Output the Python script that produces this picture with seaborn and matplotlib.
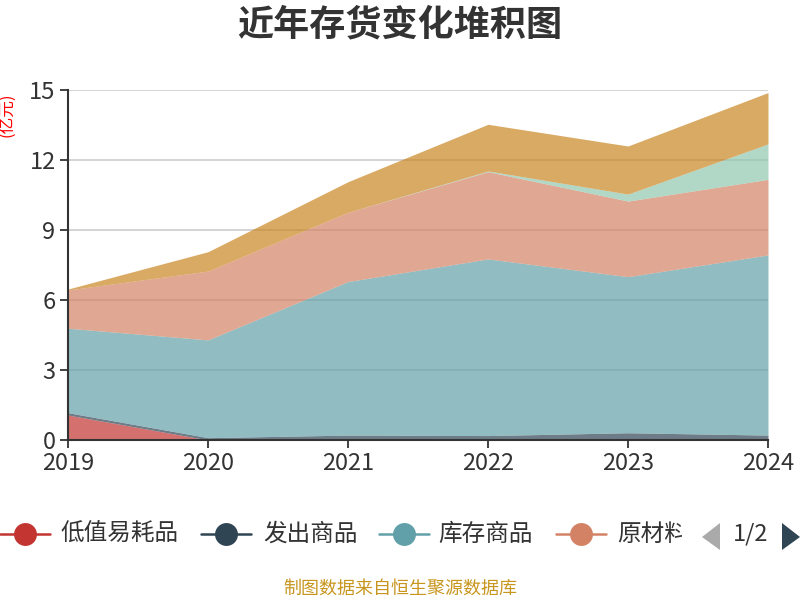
import matplotlib
matplotlib.use("Agg")
import matplotlib.pyplot as plt
import seaborn as sns
import numpy as np
import pandas as pd
from matplotlib.lines import Line2D
from matplotlib.patches import Polygon
from matplotlib.transforms import Bbox

years = [2019, 2020, 2021, 2022, 2023, 2024]
series_names = ["低值易耗品", "发出商品", "库存商品", "原材料", "在产品", "周转材料"]
low_value = [1.07, 0.0, 0.0, 0.0, 0.0, 0.0]
shipped = [0.10, 0.10, 0.21, 0.19, 0.31, 0.21]
stock = [3.62, 4.19, 6.58, 7.57, 6.69, 7.72]
raw = [1.64, 2.95, 2.97, 3.74, 3.24, 3.24]
wip = [0.0, 0.0, 0.0, 0.03, 0.30, 1.52]
turnover = [0.04, 0.83, 1.31, 2.00, 2.06, 2.20]
colors = ["#c23531", "#2f4554", "#61a0a8", "#d48265", "#91c7ae", "#ca8622"]
yticks = [0, 3, 6, 9, 12, 15]

df = pd.DataFrame({"年份": years, "低值易耗品": low_value, "发出商品": shipped,
                   "库存商品": stock, "原材料": raw, "在产品": wip, "周转材料": turnover})

sns.set_theme(style="white")
plt.rcParams['font.family'] = ['Noto Sans CJK SC', 'DejaVu Sans']

W, H = 800, 600
fig = plt.figure(figsize=(8, 6), dpi=100)
ax = fig.add_axes([68 / W, 1 - 440 / H, 700 / W, 350 / H])

base = np.zeros(len(years))
for name, c in zip(series_names, colors):
    vals = df[name].to_numpy()
    ax.fill_between(df["年份"], base, base + vals, color=c, alpha=0.7, linewidth=0, zorder=2)
    base = base + vals

ax.set_xlim(2019, 2024)
ax.set_ylim(0, 15)
ax.set_yticks(yticks)
ax.set_xticks(years)
ax.set_xticklabels([str(y) for y in years])
for y in yticks[1:]:
    ax.axhline(y, color="#cccccc", linewidth=1.2, zorder=1)

for s in ["top", "right"]:
    ax.spines[s].set_visible(False)
for s in ["left", "bottom"]:
    ax.spines[s].set_color("#333333")
    ax.spines[s].set_linewidth(1.5)
    ax.spines[s].set_zorder(3)
ax.tick_params(axis="both", which="both", direction="out", length=6, width=1.3,
               color="#333333", labelsize=17, labelcolor="#333333", pad=3,
               left=True, bottom=True)
ax.grid(False)

fig.text(0.5, 1 - 25 / H, "近年存货变化堆积图", ha="center", va="center",
         fontsize=26, fontweight="bold", color="#333333")
fig.text(8 / W, 1 - 115 / H, "(亿元)", ha="center", va="center", rotation=90,
         fontsize=12, color="red")

# legend (page 1 of 2)
leg_y = 1 - 534 / H
items = [(0, 60, "低值易耗品", colors[0]), (201, 263, "发出商品", colors[1]),
         (379, 438, "库存商品", colors[2]), (556, 617, "原材料", colors[3])]
for x0, tx, label, c in items:
    fig.add_artist(Line2D([x0 / W, (x0 + 50) / W], [leg_y, leg_y], color=c, linewidth=1.8,
                          transform=fig.transFigure))
    fig.add_artist(Line2D([(x0 + 25) / W], [leg_y], color=c, marker="o", markersize=16.5,
                          markeredgewidth=0, linestyle="none", transform=fig.transFigure))
    t = fig.text(tx / W, leg_y, label, ha="left", va="center", fontsize=17,
                 color="#333333")
    if label == "原材料":
        t.set_clip_on(True)
        t.set_clip_box(Bbox.from_extents(0, 0, 682, H))

tri_l = Polygon([[702 / W, 1 - 537 / H], [720 / W, 1 - 523 / H], [720 / W, 1 - 550 / H]],
                closed=True, facecolor="#aaaaaa", edgecolor="none", transform=fig.transFigure)
tri_r = Polygon([[800 / W, 1 - 537 / H], [782 / W, 1 - 523 / H], [782 / W, 1 - 550 / H]],
                closed=True, facecolor="#2f4554", edgecolor="none", transform=fig.transFigure)
fig.add_artist(tri_l)
fig.add_artist(tri_r)
fig.text(751 / W, leg_y, "1/2", ha="center", va="center", fontsize=17, color="#333333")

fig.text(0.5, 1 - 589 / H, "制图数据来自恒生聚源数据库", ha="center", va="center",
         fontsize=13, color="#c8961e")

fig.savefig("out.png", dpi=100)
